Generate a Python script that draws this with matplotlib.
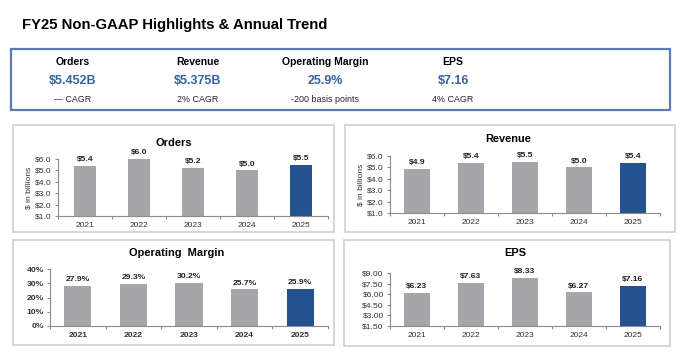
import matplotlib
matplotlib.use("Agg")
import matplotlib.pyplot as plt
from matplotlib.patches import Rectangle
import matplotlib.ticker as mticker

plt.rcParams['font.family'] = ['Liberation Sans', 'DejaVu Sans']

years = ['2021', '2022', '2023', '2024', '2025']
orders = [5.4, 6.0, 5.2, 5.0, 5.5]
revenue = [4.9, 5.4, 5.5, 5.0, 5.4]
op_margin = [27.9, 29.3, 30.2, 25.7, 25.9]
eps = [6.23, 7.63, 8.33, 6.27, 7.16]

hl_heads = ['Orders', 'Revenue', 'Operating Margin', 'EPS']
hl_values = ['$5.452B', '$5.375B', '25.9%', '$7.16']
hl_notes = ['\u2014 CAGR', '2% CAGR', '-200 basis points', '4% CAGR']

GREY = '#a6a5aa'
NAVY = '#23528f'
BLUE = '#3462a0'
W, H = 680, 356

fig = plt.figure(figsize=(6.8, 3.56), dpi=100)


def px_box(x0, y0, x1, y1, color, lw):
    fig.patches.append(Rectangle((x0 / W, 1 - y1 / H), (x1 - x0) / W, (y1 - y0) / H,
                                 transform=fig.transFigure, fill=False,
                                 edgecolor=color, linewidth=lw))


fig.text(22 / W, 1 - 25 / H, 'FY25 Non-GAAP Highlights & Annual Trend',
         fontsize=10.7, fontweight='bold', va='center', ha='left')

# highlight box
px_box(11, 49, 670, 110, '#5a7db3', 1.6)
for cx, head, val, note in zip([73, 198, 325, 453], hl_heads, hl_values, hl_notes):
    fig.text(cx / W, 1 - 62 / H, head, fontsize=7.5, fontweight='bold',
             ha='center', va='center')
    fig.text(cx / W, 1 - 81 / H, val, fontsize=9, fontweight='bold',
             color=BLUE, ha='center', va='center')
    fig.text(cx / W, 1 - 99 / H, note, fontsize=6.4, color='#222222',
             ha='center', va='center')

# panel boxes
px_box(13, 125, 334, 232, '#cfcfcf', 1.2)
px_box(345, 125, 675, 232, '#cfcfcf', 1.2)
px_box(13, 240, 334, 345, '#cfcfcf', 1.2)
px_box(344, 240, 670, 346, '#cfcfcf', 1.2)


def panel(x0, x1, ytop, ybot, vals, lims, step, fmt, lab_fmt, title, title_y, title_x,
          width=0.5, bold_ticks=False, ylabel=None):
    ax = fig.add_axes([x0 / W, 1 - ybot / H, (x1 - x0) / W, (ybot - ytop) / H])
    cols = [GREY] * (len(vals) - 1) + [NAVY]
    xs = range(len(vals))
    ax.bar(xs, vals, width=width, color=cols, bottom=0)
    ax.set_ylim(*lims)
    ax.set_xlim(-0.5, len(vals) - 0.5)
    ax.yaxis.set_major_locator(mticker.MultipleLocator(step))
    ax.yaxis.set_major_formatter(mticker.FuncFormatter(fmt))
    ax.set_xticks(list(xs))
    ax.set_xticklabels(years)
    ax.set_xticks([i - 0.5 for i in range(len(vals) + 1)], minor=True)
    for s in ['top', 'right']:
        ax.spines[s].set_visible(False)
    for s in ['left', 'bottom']:
        ax.spines[s].set_color('#8c8c8c')
        ax.spines[s].set_linewidth(0.8)
    ax.tick_params(axis='x', which='major', length=0, pad=4, labelsize=6.0,
                   labelcolor='#333333')
    ax.tick_params(axis='x', which='minor', length=2.5, color='#8c8c8c', width=0.8)
    ax.tick_params(axis='y', length=2.5, color='#8c8c8c', width=0.8, pad=2,
                   labelsize=6.1, labelcolor='#333333')
    if bold_ticks:
        for t in ax.get_xticklabels() + ax.get_yticklabels():
            t.set_fontweight('bold')
    for i, v in enumerate(vals):
        ax.annotate(lab_fmt(v), (i, v), xytext=(0, 2), textcoords='offset points',
                    ha='center', va='bottom', fontsize=6.1, fontweight='bold',
                    color='#222222', annotation_clip=False)
    fig.text(title_x / W, 1 - title_y / H, title, fontsize=7.9,
             fontweight='bold', ha='center', va='center')
    if ylabel:
        ax.set_ylabel(ylabel, fontsize=6.0, color='#333333', labelpad=2)
    return ax


panel(58, 328, 159, 216, orders, (1, 6), 1.0, lambda v, p: f'${v:.1f}',
      lambda v: f'${v:.1f}', 'Orders', 143, 174, width=0.4, ylabel='$ in billions')
panel(390, 660, 156, 213, revenue, (1, 6), 1.0, lambda v, p: f'${v:.1f}',
      lambda v: f'${v:.1f}', 'Revenue', 139, 508, width=0.48, ylabel='$ in billions')
panel(50, 328, 269, 326, op_margin, (0, 40), 10, lambda v, p: f'{v:.0f}%',
      lambda v: f'{v:.1f}%', 'Operating  Margin', 253, 177, width=0.49, bold_ticks=True)
panel(390, 660, 273, 326, eps, (1.5, 9.0), 1.5, lambda v, p: f'${v:.2f}',
      lambda v: f'${v:.2f}', 'EPS', 253, 515, width=0.49)

fig.savefig('out.png', dpi=100)
